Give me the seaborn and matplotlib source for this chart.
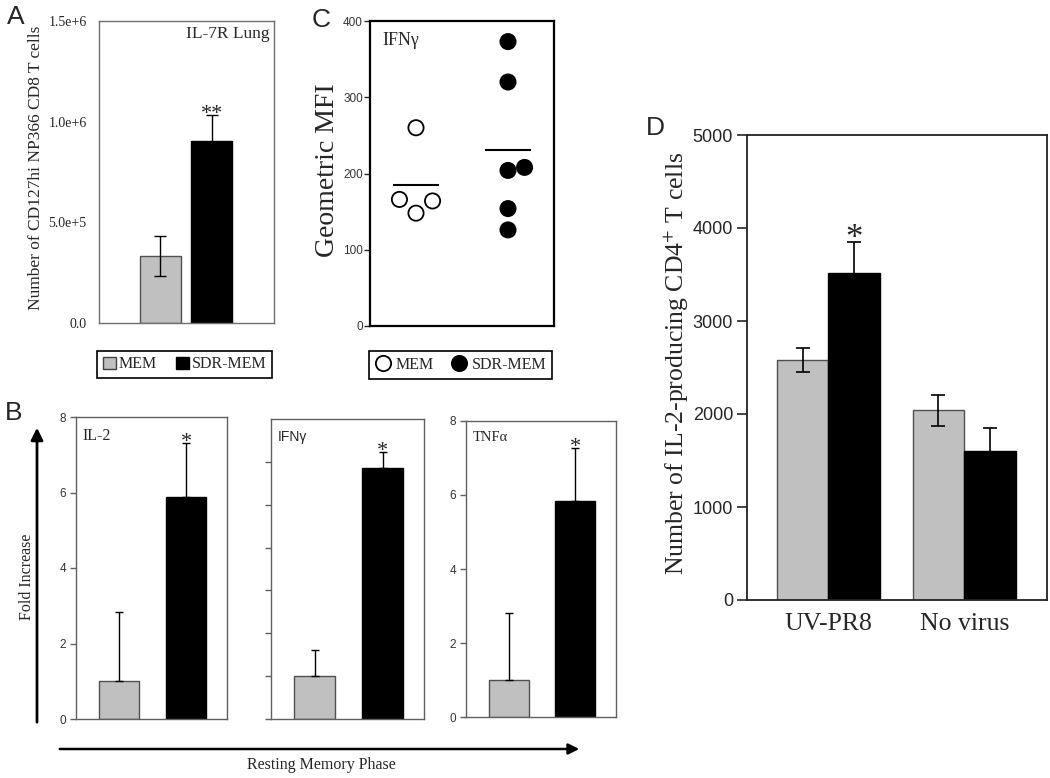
import numpy as np
import pandas as pd
import matplotlib
matplotlib.use('Agg')
import matplotlib.pyplot as plt
import seaborn as sns
from matplotlib.patches import Patch
from matplotlib.lines import Line2D

# ---- data ----
groups = ['MEM', 'SDR-MEM']

# A: IL-7R lung
a_mean = [3.33e5, 9.04e5]
a_err = [1.0e5, 1.3e5]

# B: fold increase, resting memory phase
b_cytokines = ['IL-2', 'IFNγ', 'TNFα']
b_mem = [1.0, 1.0, 1.0]
b_mem_err = [1.83, 0.6, 1.82]
b_sdr = [5.88, 5.85, 5.84]
b_sdr_err = [1.43, 0.39, 1.43]

# C: IFNg geometric MFI, single mice
c_mem = [260, 166, 148, 164]
c_sdr = [373, 320, 204, 208, 154, 126]

# D: IL-2 producing CD4 T cells
d_stim = ['UV-PR8', 'No virus']
d_mem = [2577, 2041]
d_mem_err = [128, 165]
d_sdr = [3520, 1607]
d_sdr_err = [330, 243]

# ---- style ----
sns.set_style('white')
plt.rcParams['font.family'] = ['Liberation Serif', 'DejaVu Serif']
plt.rcParams['mathtext.fontset'] = 'stix'
SANS = ['Liberation Sans', 'DejaVu Sans']
GREY = '#c0c0c0'
pal = {'MEM': GREY, 'SDR-MEM': 'black'}
W, H = 1050, 778

fig = plt.figure(figsize=(10.5, 7.78), dpi=100)


def box(x0, y0, x1, y1):
    # pixel box (top-left origin) -> figure fraction
    return [x0 / W, 1 - y1 / H, (x1 - x0) / W, (y1 - y0) / H]


def spines(ax, color, lw):
    for s in ax.spines.values():
        s.set_visible(True)
        s.set_color(color)
        s.set_linewidth(lw)


def fix_edges(ax):
    for p in ax.patches:
        if p.get_facecolor()[0] > 0.5:
            p.set_edgecolor('#505050')
        else:
            p.set_edgecolor('black')
        p.set_linewidth(1.0)


def star(ax, x, y, txt, size, dy):
    ax.annotate(txt, (x, y), xytext=(0, dy), textcoords='offset points',
                ha='center', va='baseline', fontsize=size)


# ---------- A ----------
axA = fig.add_axes(box(99, 21, 274, 323))
sns.barplot(x=groups, y=a_mean, hue=groups, palette=pal, width=0.8,
            errorbar=None, legend=False, ax=axA)
fix_edges(axA)
barsA = sorted(axA.patches, key=lambda p: p.get_x())
xsA = [p.get_x() + p.get_width() / 2 for p in barsA]
axA.errorbar(xsA, a_mean, yerr=a_err, fmt='none', ecolor='black',
             elinewidth=1, capsize=4, capthick=1)
axA.set_xlim(-1.2, 2.22)
axA.set_ylim(0, 1.5e6)
axA.set_yticks([0, 5e5, 1e6, 1.5e6])
axA.set_yticklabels(['0.0', '5.0e+5', '1.0e+6', '1.5e+6'], fontsize=10)
axA.set_xticks([])
axA.tick_params(axis='y', length=0, pad=9)
spines(axA, '#707070', 1.0)
axA.text(0.975, 0.985, 'IL-7R Lung', transform=axA.transAxes, ha='right',
         va='top', fontsize=12.5)
star(axA, xsA[1], a_mean[1] + a_err[1], '**', 16, -3)
fig.text(36 / W, 1 - 168 / H, 'Number of CD127hi NP366 CD8 T cells', rotation=90,
         ha='center', va='center', fontsize=12.5)

legA = fig.legend(handles=[Patch(fc=GREY, ec='#404040'), Patch(fc='black', ec='black')],
                  labels=groups, ncol=2, loc='center',
                  bbox_to_anchor=(97 / W, 1 - 381 / H, 175 / W, 33 / H), mode='expand',
                  frameon=True, fancybox=False, edgecolor='black', framealpha=1,
                  handlelength=0.85, handleheight=0.85, handletextpad=0.15,
                  columnspacing=0.4, borderpad=0.35, borderaxespad=0,
                  prop={'family': 'Liberation Serif', 'size': 11.5})
legA.get_frame().set_linewidth(1.2)

# ---------- C ----------
axC = fig.add_axes(box(370, 21, 554, 326))
c_offsets = [[0, -1, 0, 1], [0, 0, 0, 1, 0, 0]]
rows = []
for gi, (g, vals) in enumerate(zip(groups, [c_mem, c_sdr])):
    for v, o in zip(vals, c_offsets[gi]):
        rows.append({'group': g, 'value': v, 'pos': gi + 0.18 * o})
dfC = pd.DataFrame(rows)
sns.scatterplot(data=dfC, x='pos', y='value', hue='group',
                palette={'MEM': 'white', 'SDR-MEM': 'black'}, edgecolor='black',
                linewidth=1.3, s=120, legend=False, ax=axC, zorder=3)
for gi, vals in enumerate([c_mem, c_sdr]):
    axC.hlines(np.mean(vals), gi - 0.25, gi + 0.25, color='black', lw=1.5)
axC.set_xlim(-0.5, 1.5)
axC.set_ylim(0, 400)
axC.set_xticks([])
axC.set_yticks([0, 100, 200, 300, 400])
axC.set_xlabel('')
axC.set_ylabel('')
for t in axC.get_yticklabels():
    t.set_family(SANS)
    t.set_fontsize(8.5)
    t.set_color('#333333')
axC.tick_params(axis='y', direction='out', length=4, width=1, left=True, pad=1)
spines(axC, 'black', 1.6)
axC.text(0.065, 0.965, 'IFNγ', transform=axC.transAxes, ha='left', va='top',
         fontsize=13)
fig.text(327 / W, 1 - 170 / H, 'Geometric MFI', rotation=90, ha='center',
         va='center', fontsize=20)

legC = fig.legend(handles=[Line2D([], [], marker='o', ls='none', mfc='white', mec='black', ms=11, mew=1.3),
                           Line2D([], [], marker='o', ls='none', mfc='black', mec='black', ms=11, mew=1.3)],
                  labels=groups, ncol=2, loc='center',
                  bbox_to_anchor=(369 / W, 1 - 381 / H, 183 / W, 32 / H), mode='expand',
                  frameon=True, fancybox=False, edgecolor='black', framealpha=1,
                  handlelength=1.0, handletextpad=0.3, columnspacing=0.3,
                  borderpad=0.35, borderaxespad=0,
                  prop={'family': 'Liberation Serif', 'size': 11.5})
legC.get_frame().set_linewidth(1.2)

# ---------- B ----------
b_boxes = [(76, 417, 227, 719), (271, 419, 424, 719), (466, 421, 616, 717)]
b_ylim = [8, 7, 8]
b_tlab = [True, False, True]
b_label_font = [None, SANS, None]
b_label_size = [11.5, 10, 10.5]
for i, cyt in enumerate(b_cytokines):
    ax = fig.add_axes(box(*b_boxes[i]))
    vals = [b_mem[i], b_sdr[i]]
    sns.barplot(x=groups, y=vals, hue=groups, palette=pal, width=0.6,
                errorbar=None, legend=False, ax=ax)
    fix_edges(ax)
    bars = sorted(ax.patches, key=lambda p: p.get_x())
    xs = [p.get_x() + p.get_width() / 2 for p in bars]
    ax.errorbar(xs, vals, yerr=[[0, 0], [b_mem_err[i], b_sdr_err[i]]], fmt='none',
                ecolor='black', elinewidth=1, capsize=3, capthick=1)
    ax.set_xlim(-0.64, 1.61)
    ax.set_ylim(0, b_ylim[i])
    ax.set_xticks([])
    if b_tlab[i]:
        ax.set_yticks([0, 2, 4, 6, 8])
        for t in ax.get_yticklabels():
            t.set_family(SANS)
            t.set_fontsize(8.5)
            t.set_color('#333333')
    else:
        ax.set_yticks(range(0, 7))
        ax.set_yticklabels([])
    ax.tick_params(axis='y', direction='out', length=4, width=1, left=True,
                   color='#606060', pad=3)
    spines(ax, '#606060', 1.0)
    kw = {'family': b_label_font[i]} if b_label_font[i] else {}
    ax.text(0.045, 0.965, cyt, transform=ax.transAxes, ha='left', va='top',
            fontsize=b_label_size[i], **kw)
    star(ax, xs[1], b_sdr[i] + b_sdr_err[i], '*', 16, -3)

fig.text(27 / W, 1 - 577 / H, 'Fold Increase', rotation=90, ha='center',
         va='center', fontsize=11.5)
fig.text(321 / W, 1 - 765 / H, 'Resting Memory Phase', ha='center', va='center',
         fontsize=11.5)
fig.add_artist(matplotlib.patches.FancyArrowPatch(
    (37 / W, 1 - 725 / H), (37 / W, 1 - 425 / H), transform=fig.transFigure,
    arrowstyle='-|>', mutation_scale=18, lw=2, color='black'))
fig.add_artist(matplotlib.patches.FancyArrowPatch(
    (57 / W, 1 - 749 / H), (582 / W, 1 - 749 / H), transform=fig.transFigure,
    arrowstyle='-|>', mutation_scale=16, lw=1.8, color='black'))

# ---------- D ----------
axD = fig.add_axes(box(747, 135, 1047, 600))
dfD = pd.DataFrame({'stim': d_stim * 2,
                    'group': ['MEM'] * 2 + ['SDR-MEM'] * 2,
                    'value': d_mem + d_sdr})
sns.barplot(data=dfD, x='stim', y='value', hue='group', palette=pal, width=0.76,
            errorbar=None, legend=False, ax=axD)
fix_edges(axD)
for cont, means, errs in zip(axD.containers, [d_mem, d_sdr], [d_mem_err, d_sdr_err]):
    xs = [p.get_x() + p.get_width() / 2 for p in cont]
    axD.errorbar(xs, means, yerr=errs, fmt='none', ecolor='black', elinewidth=1.2,
                 capsize=5, capthick=1.2)
    if means is d_sdr:
        star(axD, xs[0], means[0] + errs[0], '*', 25, -4)
axD.set_xlim(-0.6, 1.61)
axD.set_ylim(0, 5000)
axD.set_yticks(range(0, 5001, 1000))
for t in axD.get_yticklabels():
    t.set_family(SANS)
    t.set_fontsize(13)
axD.set_xlabel('')
axD.set_ylabel('')
for t in axD.get_xticklabels():
    t.set_fontsize(18.5)
axD.tick_params(axis='y', direction='out', length=7, width=1.2, left=True, pad=3)
axD.tick_params(axis='x', length=0, pad=9)
spines(axD, '#222222', 1.3)
fig.text(676 / W, 1 - 363 / H, r'Number of IL-2-producing CD4$^{+}$ T cells',
         rotation=90, ha='center', va='center', fontsize=18.5)

# panel letters
for letter, (x, y) in zip('ABCD', [(16, 17), (14, 413), (321, 20), (655, 128)]):
    fig.text(x / W, 1 - y / H, letter, ha='center', va='center', fontsize=19,
             family=SANS)

fig.savefig('out.png', dpi=100)
